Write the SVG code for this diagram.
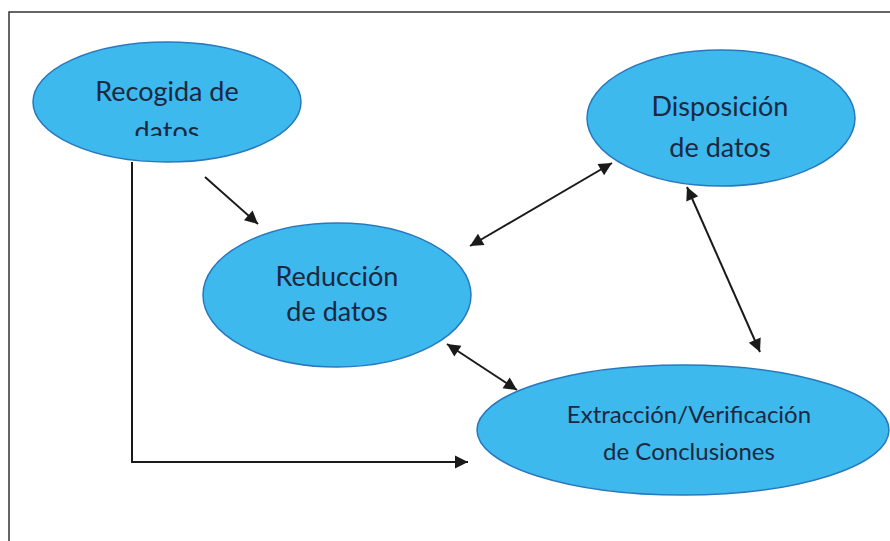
<svg xmlns="http://www.w3.org/2000/svg" width="890" height="541" viewBox="0 0 890 541">
<defs>
<marker id="ah" viewBox="0 0 10 10" refX="10" refY="5" markerWidth="16" markerHeight="13" markerUnits="userSpaceOnUse" orient="auto-start-reverse" style="overflow:visible">
<path d="M0,0 L10,5 L0,10 z" fill="#1a1a1a"/>
</marker>
<clipPath id="clipR"><rect x="0" y="0" width="890" height="136"/></clipPath>
<style>
.node ellipse{fill:#3db9ee;stroke:#2878be;stroke-width:1.5}
.node text{font-family:Lato,"Open Sans","Liberation Sans",sans-serif;font-size:27px;fill:#1c2840;text-anchor:middle}
#n-extraccion text{font-size:24px}
.conn path{fill:none;stroke:#1a1a1a;stroke-width:2}
.frame{fill:none;stroke:#333;stroke-width:1.5}
</style>
</defs>
<rect width="890" height="541" fill="#ffffff"/>
<path class="frame" d="M9,541 L9,12 L890,12"/>
<g id="n-recogida" class="node">
<ellipse cx="167" cy="102" rx="134" ry="60"/>
<text x="167" y="101">Recogida de</text>
<text x="167" y="141" clip-path="url(#clipR)">datos</text>
</g>
<g id="n-disposicion" class="node">
<ellipse cx="721" cy="118" rx="134" ry="68"/>
<text x="720" y="116">Disposición</text>
<text x="720" y="157">de datos</text>
</g>
<g id="n-reduccion" class="node">
<ellipse cx="337" cy="295" rx="134" ry="72"/>
<text x="337" y="286">Reducción</text>
<text x="337" y="321">de datos</text>
</g>
<g id="n-extraccion" class="node">
<ellipse cx="683" cy="430" rx="206" ry="65"/>
<text x="689" y="423">Extracción/Verificación</text>
<text x="689" y="460">de Conclusiones</text>
</g>
<g id="connectors" class="conn">
<path d="M205,177 L258,224" marker-end="url(#ah)"/>
<path d="M132,162 L132,462 L468,462" marker-end="url(#ah)"/>
<path d="M470,246 L612,163" marker-start="url(#ah)" marker-end="url(#ah)"/>
<path d="M687,187 L760,352" marker-start="url(#ah)" marker-end="url(#ah)"/>
<path d="M447,344 L517,390" marker-start="url(#ah)" marker-end="url(#ah)"/>
</g>
</svg>
